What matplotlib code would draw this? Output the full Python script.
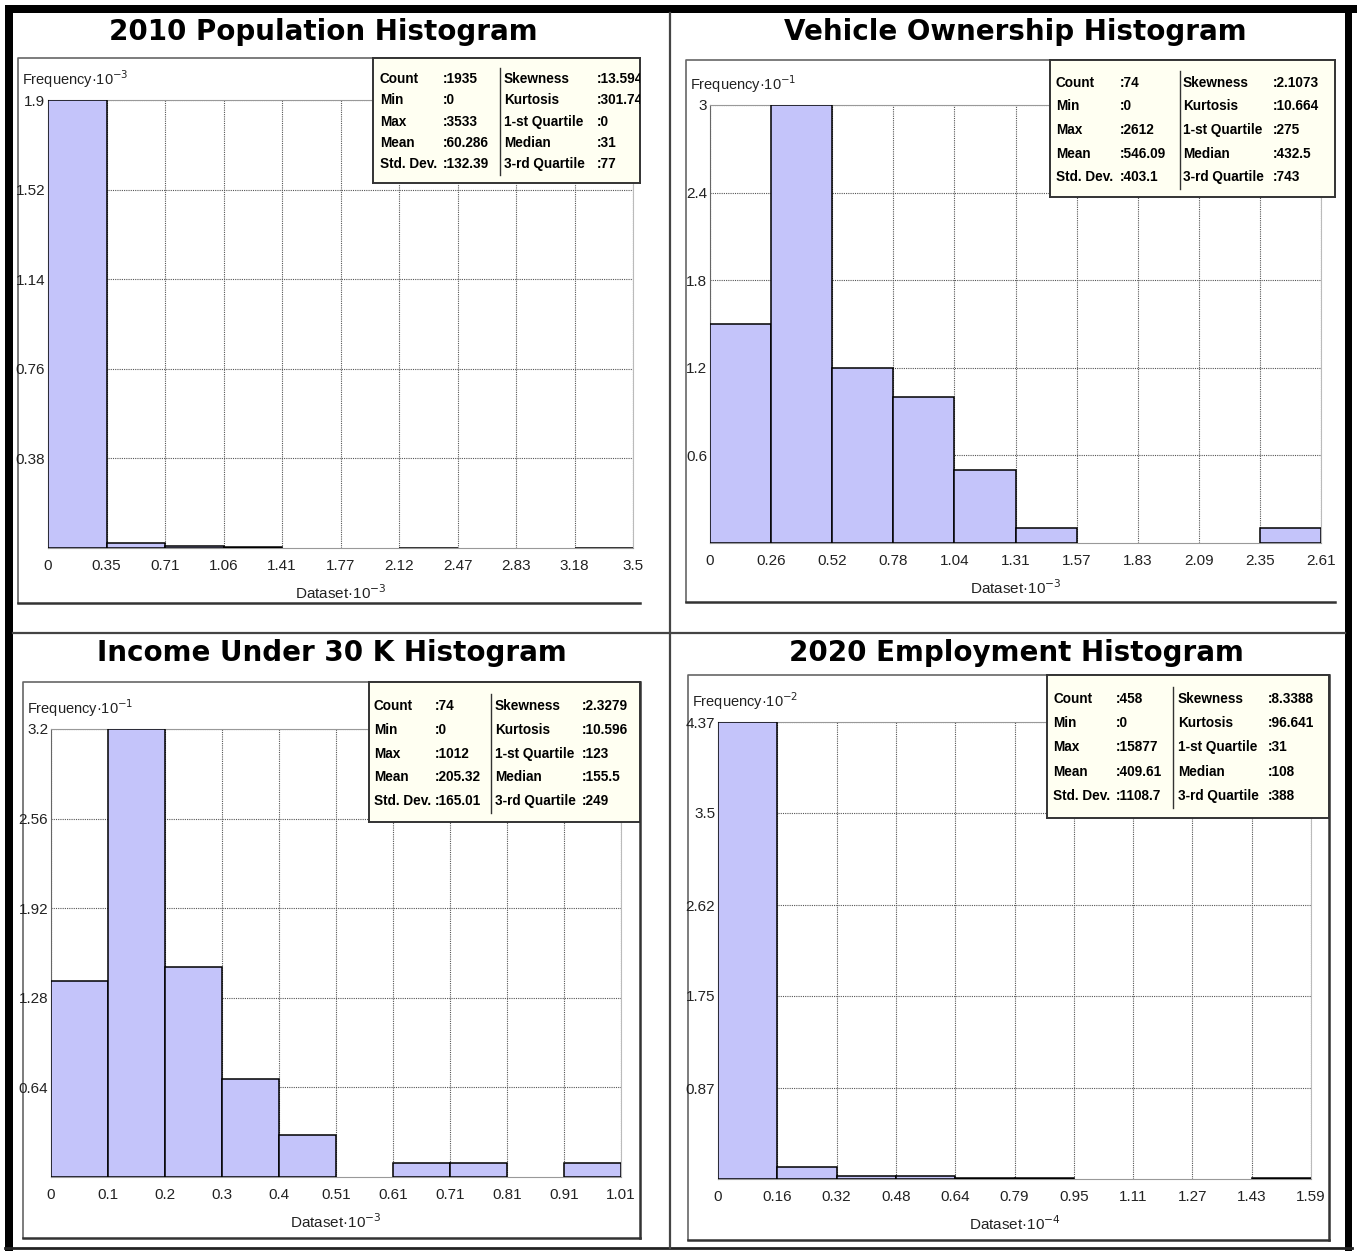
import numpy as np
import matplotlib
matplotlib.use("Agg")
import matplotlib.pyplot as plt
from matplotlib.patches import Rectangle

# ---- data (frequencies already scaled as printed on the axes) ----
pop_counts = [1.9, 0.022, 0.007, 0.003, 0, 0, 0.001, 0, 0, 0.002]
pop_xmax = 3.533
pop_xticks = ['0', '0.35', '0.71', '1.06', '1.41', '1.77', '2.12', '2.47', '2.83', '3.18', '3.5']
pop_yticks = ['0.38', '0.76', '1.14', '1.52', '1.9']
pop_stats = [('Count', '1935'), ('Min', '0'), ('Max', '3533'), ('Mean', '60.286'), ('Std. Dev.', '132.39')]
pop_stats2 = [('Skewness', '13.594'), ('Kurtosis', '301.74'), ('1-st Quartile', '0'), ('Median', '31'), ('3-rd Quartile', '77')]

veh_counts = [1.5, 3.0, 1.2, 1.0, 0.5, 0.1, 0, 0, 0, 0.1]
veh_xmax = 2.612
veh_xticks = ['0', '0.26', '0.52', '0.78', '1.04', '1.31', '1.57', '1.83', '2.09', '2.35', '2.61']
veh_yticks = ['0.6', '1.2', '1.8', '2.4', '3']
veh_stats = [('Count', '74'), ('Min', '0'), ('Max', '2612'), ('Mean', '546.09'), ('Std. Dev.', '403.1')]
veh_stats2 = [('Skewness', '2.1073'), ('Kurtosis', '10.664'), ('1-st Quartile', '275'), ('Median', '432.5'), ('3-rd Quartile', '743')]

inc_counts = [1.4, 3.2, 1.5, 0.7, 0.3, 0, 0.1, 0.1, 0, 0.1]
inc_xmax = 1.012
inc_xticks = ['0', '0.1', '0.2', '0.3', '0.4', '0.51', '0.61', '0.71', '0.81', '0.91', '1.01']
inc_yticks = ['0.64', '1.28', '1.92', '2.56', '3.2']
inc_stats = [('Count', '74'), ('Min', '0'), ('Max', '1012'), ('Mean', '205.32'), ('Std. Dev.', '165.01')]
inc_stats2 = [('Skewness', '2.3279'), ('Kurtosis', '10.596'), ('1-st Quartile', '123'), ('Median', '155.5'), ('3-rd Quartile', '249')]

emp_counts = [4.37, 0.11, 0.03, 0.03, 0.01, 0.01, 0, 0, 0, 0.01]
emp_xmax = 1.5877
emp_xticks = ['0', '0.16', '0.32', '0.48', '0.64', '0.79', '0.95', '1.11', '1.27', '1.43', '1.59']
emp_yticks = ['0.87', '1.75', '2.62', '3.5', '4.37']
emp_stats = [('Count', '458'), ('Min', '0'), ('Max', '15877'), ('Mean', '409.61'), ('Std. Dev.', '1108.7')]
emp_stats2 = [('Skewness', '8.3388'), ('Kurtosis', '96.641'), ('1-st Quartile', '31'), ('Median', '108'), ('3-rd Quartile', '388')]

W, H = 1357, 1251
fig = plt.figure(figsize=(W / 100, H / 100), dpi=100)
fig.patch.set_facecolor('white')

NARROW = ['Liberation Sans', 'DejaVu Sans']
BAR = '#C4C4FA'

bg = fig.add_axes([0, 0, 1, 1])
bg.set_xlim(0, W)
bg.set_ylim(H, 0)
bg.axis('off')

# outer borders and dividers
bg.add_patch(Rectangle((5, 5), W - 5, 8, color='black', lw=0))
bg.add_patch(Rectangle((5, 5), 8, H - 5, color='black', lw=0))
bg.add_patch(Rectangle((1345, 5), 7, H - 5, color='black', lw=0))
bg.plot([5, 1352], [1248, 1248], color='#222222', lw=2)
bg.plot([13, 1345], [633, 633], color='#444444', lw=1.6)
bg.plot([670, 670], [13, 1248], color='#444444', lw=1.6)


def px_axes(l, t, r, b):
    return fig.add_axes([l / W, 1 - b / H, (r - l) / W, (b - t) / H])


def panel(title, tx, ty, frame, closed, plot, sbox, counts, xmax, xticks, yticks,
          yexp, xexp, stats, stats2, row0, rowh, cols):
    bg.text(tx, ty, title, ha='center', va='center', fontsize=20,
            fontweight='bold', family='DejaVu Sans')
    fl, ft, fr, fb = frame
    bg.plot([fr, fl, fl], [ft, ft, fb], color='#666666', lw=1.2)
    bg.plot([fl, fr], [fb, fb], color='#333333', lw=1.8)
    if closed:
        bg.plot([fr, fr], [ft, fb], color='#333333', lw=1.8)
    pl, pt, pr, pb = plot
    bg.text(fl + 4, pt - 21, 'Frequency·10$^{' + yexp + '}$', ha='left', va='center',
            fontsize=10.5, family=NARROW, color='#222222')

    ax = px_axes(pl, pt, pr, pb)
    edges = np.linspace(0, xmax, len(counts) + 1)
    c = np.array(counts)
    nz = c > 0
    ax.bar(edges[:-1][nz], c[nz], width=edges[1] - edges[0], align='edge',
           color=BAR, edgecolor='black', lw=1.1, zorder=3)
    ymax = float(yticks[-1])
    ax.set_xlim(0, xmax)
    ax.set_ylim(0, ymax)
    ax.set_xticks(edges)
    ax.set_xticklabels(xticks, family=NARROW, fontsize=11, color='#222222')
    ax.set_yticks([float(v) for v in yticks])
    ax.set_yticklabels(yticks, family=NARROW, fontsize=11, color='#222222')
    ax.tick_params(length=0, pad=2)
    ax.tick_params(axis='x', pad=8)
    ax.grid(True, color='#555555', lw=0.8, ls=(0, (1, 1)), zorder=1)
    ax.set_axisbelow(True)
    ax.spines['left'].set_color('#666666')
    ax.spines['top'].set_color('#999999')
    ax.spines['right'].set_color('#bbbbbb')
    ax.spines['bottom'].set_color('#999999')
    ax.set_xlabel('Dataset·10$^{' + xexp + '}$', family=NARROW, fontsize=11,
                  color='#222222', labelpad=7)

    sl, st, sr, sb = sbox
    sx = px_axes(sl, st, sr, sb)
    sx.set_xlim(0, sr - sl)
    sx.set_ylim(sb - st, 0)
    sx.set_facecolor('#FFFFF2')
    sx.set_xticks([])
    sx.set_yticks([])
    for s in sx.spines.values():
        s.set_color('#333333')
        s.set_linewidth(1.4)
    c0, c1, sep, c2, c3 = cols
    for i, ((a, b), (d, e)) in enumerate(zip(stats, stats2)):
        y = row0 + i * rowh
        for x, txt in ((c0, a), (c1, ':' + b), (c2, d), (c3, ':' + e)):
            sx.text(x, y, txt, ha='left', va='center', fontsize=9.8,
                    fontweight='bold', family=NARROW, clip_on=True)
    sx.plot([sep, sep], [row0 - rowh / 2, row0 + 4.5 * rowh], color='#333333', lw=1)


panel('2010 Population Histogram', 323, 32, (18, 58, 640, 603), False,
      (48, 100, 633, 548), (373, 58, 640, 183),
      pop_counts, pop_xmax, pop_xticks, pop_yticks, '-3', '-3',
      pop_stats, pop_stats2, 21, 21.3, (7, 70, 127, 131, 224))

panel('Vehicle Ownership Histogram', 1015, 32, (686, 60, 1335, 602), False,
      (710, 105, 1321, 543), (1050, 60, 1335, 197),
      veh_counts, veh_xmax, veh_xticks, veh_yticks, '-1', '-3',
      veh_stats, veh_stats2, 23, 23.5, (6, 70, 130, 133, 223))

panel('Income Under 30 K Histogram', 332, 653, (23, 682, 640, 1238), True,
      (51, 729, 621, 1177), (369, 682, 640, 822),
      inc_counts, inc_xmax, inc_xticks, inc_yticks, '-1', '-3',
      inc_stats, inc_stats2, 24, 23.8, (5, 66, 122, 126, 213))

panel('2020 Employment Histogram', 1016, 653, (688, 675, 1329, 1240), True,
      (718, 722, 1311, 1179), (1047, 675, 1329, 818),
      emp_counts, emp_xmax, emp_xticks, emp_yticks, '-2', '-4',
      emp_stats, emp_stats2, 24, 24.2, (6, 69, 126, 131, 221))

fig.savefig('out.png', dpi=100)
